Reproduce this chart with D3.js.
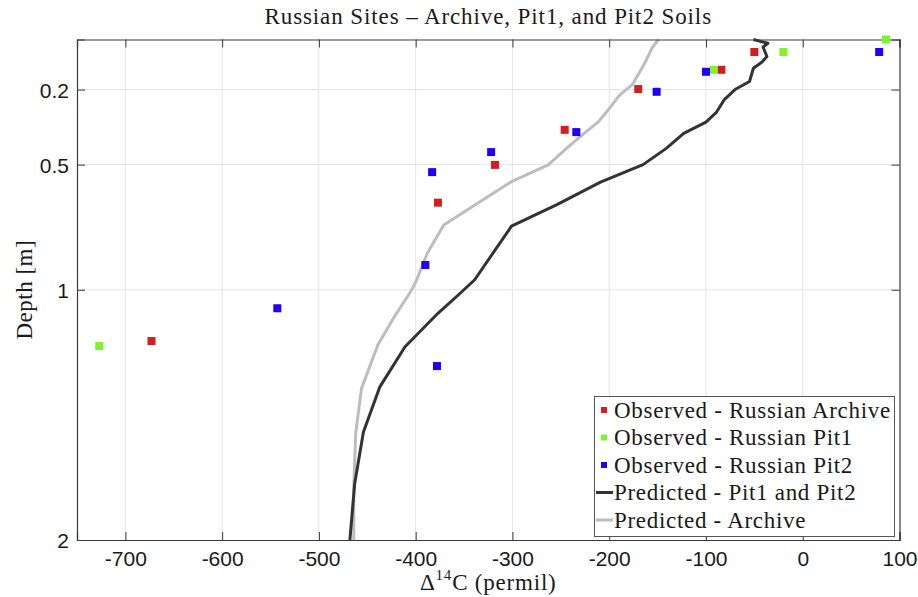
<!DOCTYPE html>
<html>
<head>
<meta charset="utf-8">
<script src="https://cdn.jsdelivr.net/npm/d3@7"></script>
<style>
  html, body { margin: 0; padding: 0; background: #fff; }
  svg { display: block; }
</style>
</head>
<body>
<svg id="chart" width="918" height="597"></svg>
<script>
// ---------- Data ----------
const xTicks = [-700, -600, -500, -400, -300, -200, -100, 0, 100];
const yTicks = [0.2, 0.5, 1, 2];

// Observed - Russian Archive (red)
const archiveC14 = [-50, -84, -170, -246, -318, -377, -673];
const archiveDepth = [0.05, 0.121, 0.198, 0.361, 0.501, 0.652, 1.205];

// Observed - Russian Pit1 (green)
const pit1C14 = [86, -20, -92, -727];
const pit1Depth = [0.0, 0.05, 0.121, 1.225];

// Observed - Russian Pit2 (blue)
const pit2C14 = [79, -100, -151, -234, -322, -383, -390, -543, -378];
const pit2Depth = [0.05, 0.129, 0.209, 0.370, 0.450, 0.530, 0.901, 1.074, 1.305];

// Predicted - Pit1 and Pit2 (dark line)
const predPitDepth = [0, 0.015, 0.03, 0.068, 0.09, 0.115, 0.168, 0.2, 0.24, 0.29, 0.33, 0.375, 0.435, 0.5, 0.57, 0.66, 0.746, 0.96, 1.014, 1.094, 1.228, 1.388, 1.568, 1.774, 2.0];
const predPitC14 = [-51, -36, -41, -37, -42, -51, -55, -70, -81, -89, -100, -123, -141, -165, -209, -254, -301, -339, -354, -377, -411, -437, -454, -463, -468];

// Predicted - Archive (light grey line)
const predArchDepth = [0, 0.035, 0.06, 0.1, 0.14, 0.18, 0.221, 0.281, 0.328, 0.388, 0.438, 0.501, 0.568, 0.741, 0.854, 0.961, 1.0, 1.114, 1.22, 1.394, 1.574, 1.788, 2.0];
const predArchC14 = [-149, -156, -159, -164, -170, -176, -189, -201, -211, -230, -245, -263, -301, -371, -388, -399, -404, -423, -439, -456, -462, -464, -464];

const legendLabels = [
  "Observed - Russian Archive",
  "Observed - Russian Pit1",
  "Observed - Russian Pit2",
  "Predicted - Pit1 and Pit2",
  "Predicted - Archive"
];

// ---------- Layout ----------
const L = 77, R = 899.5, T = 39.5, B = 540;
const svg = d3.select("#chart");
const x = d3.scaleLinear().domain([-750, 100]).range([L, R]);
const y = d3.scaleLinear().domain([0, 2]).range([T, B]);

const axisColor = "#3a3a3a";
const gridColor = "#e3e3e3";
const red = "#d11f1f", green = "#7ef52b", blue = "#2000f5";
const darkLine = "#333333", lightLine = "#bdbdbd";
const serif = "'Liberation Serif', 'Times New Roman', serif";
const sans = "'Liberation Sans', Arial, Helvetica, sans-serif";

// Grid
const grid = svg.append("g");
grid.selectAll("line.gx").data(xTicks.filter(v => v > -750 && v < 100)).join("line")
  .attr("x1", d => x(d)).attr("x2", d => x(d)).attr("y1", T).attr("y2", B)
  .attr("stroke", gridColor).attr("stroke-width", 1);
grid.selectAll("line.gy").data(yTicks.filter(v => v < 2)).join("line")
  .attr("y1", d => y(d)).attr("y2", d => y(d)).attr("x1", L).attr("x2", R)
  .attr("stroke", gridColor).attr("stroke-width", 1);

// Lines
const line = d3.line().x(d => x(d[0])).y(d => y(d[1]));
const pitLineData = d3.zip(predPitC14, predPitDepth);
const archLineData = d3.zip(predArchC14, predArchDepth);
svg.append("path").datum(archLineData).attr("d", line)
  .attr("fill", "none").attr("stroke", lightLine).attr("stroke-width", 3).attr("stroke-linejoin", "round");
svg.append("path").datum(pitLineData).attr("d", line)
  .attr("fill", "none").attr("stroke", darkLine).attr("stroke-width", 3).attr("stroke-linejoin", "round");

// Axes box with inward ticks
const tickLen = 8;
const axB = svg.append("g").attr("transform", `translate(0,${B})`)
  .call(d3.axisBottom(x).tickValues(xTicks).tickSize(-tickLen).tickPadding(11).tickFormat(d => String(d)));
const axT = svg.append("g").attr("transform", `translate(0,${T})`)
  .call(d3.axisTop(x).tickValues(xTicks).tickSize(-tickLen).tickFormat(""));
const axL = svg.append("g").attr("transform", `translate(${L},0)`)
  .call(d3.axisLeft(y).tickValues(yTicks).tickSize(-tickLen).tickPadding(8).tickFormat(d => String(d)));
const axR = svg.append("g").attr("transform", `translate(${R},0)`)
  .call(d3.axisRight(y).tickValues(yTicks).tickSize(-tickLen).tickFormat(""));
[axB, axT, axL, axR].forEach(a => {
  a.select(".domain").attr("stroke", axisColor).attr("stroke-width", 1.2);
  a.selectAll(".tick line").attr("stroke", axisColor).attr("stroke-width", 1);
  a.selectAll(".tick text").attr("fill", "#1a1a1a").style("font-family", sans).style("font-size", "21px");
});
axL.selectAll(".tick text").attr("dy", "0.36em");

// Markers
const sq = 8;
function drawPts(xs, ys, color) {
  svg.append("g").selectAll("rect").data(d3.zip(xs, ys)).join("rect")
    .attr("x", d => x(d[0]) - sq / 2).attr("y", d => y(d[1]) - sq / 2)
    .attr("width", sq).attr("height", sq).attr("fill", color);
}
drawPts(archiveC14, archiveDepth, red);
drawPts(pit1C14, pit1Depth, green);
drawPts(pit2C14, pit2Depth, blue);

// Title
svg.append("text").attr("x", (L + R) / 2).attr("y", 24).attr("text-anchor", "middle")
  .style("font-family", serif).style("font-size", "23px").style("letter-spacing", "0.9px").attr("fill", "#1a1a1a")
  .text("Russian Sites \u2013 Archive, Pit1, and Pit2 Soils");

// X label
const xl = svg.append("text").attr("x", (L + R) / 2).attr("y", 590).attr("text-anchor", "middle")
  .style("font-family", serif).style("font-size", "23px").style("letter-spacing", "0.8px").attr("fill", "#1a1a1a");
xl.append("tspan").text("\u0394");
xl.append("tspan").attr("dy", -10).style("font-size", "15px").text("14");
xl.append("tspan").attr("dy", 10).text("C (permil)");

// Y label
svg.append("text").attr("transform", `translate(32,${(T + B) / 2}) rotate(-90)`).attr("text-anchor", "middle")
  .style("font-family", serif).style("font-size", "23px").style("letter-spacing", "0.5px").attr("fill", "#1a1a1a")
  .text("Depth [m]");

// Legend
const lg = svg.append("g");
lg.append("rect").attr("x", 594.5).attr("y", 396.5).attr("width", 300).attr("height", 140)
  .attr("fill", "#fff").attr("stroke", "#555").attr("stroke-width", 1);
const legendStyles = [
  {type: "sq", color: red}, {type: "sq", color: green}, {type: "sq", color: blue},
  {type: "ln", color: darkLine}, {type: "ln", color: lightLine}
];
legendLabels.forEach((lab, i) => {
  const cy = 410 + i * 27.5;
  const s = legendStyles[i];
  if (s.type === "sq") {
    lg.append("rect").attr("x", 601).attr("y", cy - 3).attr("width", 6).attr("height", 6).attr("fill", s.color);
  } else {
    lg.append("line").attr("x1", 596).attr("x2", 613).attr("y1", cy).attr("y2", cy)
      .attr("stroke", s.color).attr("stroke-width", 3);
  }
  lg.append("text").attr("x", 614).attr("y", cy + 7.5)
    .style("font-family", serif).style("font-size", "23px").style("letter-spacing", "0.7px")
    .attr("fill", "#1a1a1a").text(lab);
});
</script>
</body>
</html>
